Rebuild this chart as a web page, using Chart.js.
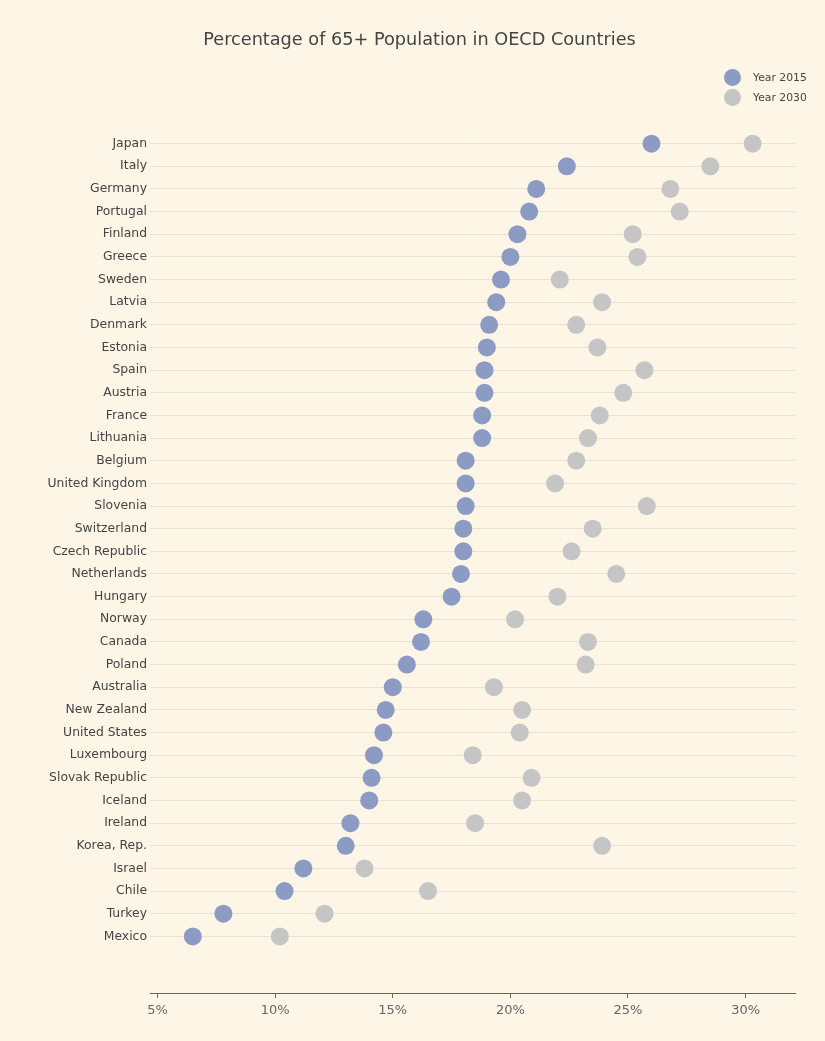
<!DOCTYPE html>
<html>
<head>
<meta charset="utf-8">
<title>Percentage of 65+ Population in OECD Countries</title>
<script src="https://cdn.jsdelivr.net/npm/chart.js@4/dist/chart.umd.min.js"></script>
<style>
  body { margin: 0; background: rgb(253, 246, 231); font-family: "DejaVu Sans", Verdana, sans-serif; }
  #wrap { position: relative; width: 825px; height: 1041px; }
  #title {
    position: absolute; top: 29px; left: 0; width: 825px; padding-left: 14px; box-sizing: border-box;
    text-align: center; font-size: 17.7px; color: #444;
  }
  #legend { position: absolute; top: 67px; left: 724px; font-size: 10.8px; color: #444; }
  .legend-item { display: flex; align-items: center; height: 20px; }
  .legend-dot { width: 17px; height: 17px; border-radius: 50%; margin-right: 12px; }
  canvas { position: absolute; top: 0; left: 0; }
</style>
</head>
<body>
<div id="wrap">
  <canvas id="chart" width="825" height="1041"></canvas>
  <div id="title">Percentage of 65+ Population in OECD Countries</div>
  <div id="legend"></div>
</div>
<script>
// Data (percent of population aged 65+), top row first
const countries = [
  'Japan', 'Italy', 'Germany', 'Portugal', 'Finland', 'Greece', 'Sweden', 'Latvia',
  'Denmark', 'Estonia', 'Spain', 'Austria', 'France', 'Lithuania', 'Belgium',
  'United Kingdom', 'Slovenia', 'Switzerland', 'Czech Republic', 'Netherlands',
  'Hungary', 'Norway', 'Canada', 'Poland', 'Australia', 'New Zealand',
  'United States', 'Luxembourg', 'Slovak Republic', 'Iceland', 'Ireland',
  'Korea, Rep.', 'Israel', 'Chile', 'Turkey', 'Mexico'
];
const values2015 = [
  26.0, 22.4, 21.1, 20.8, 20.3, 20.0, 19.6, 19.4, 19.1, 19.0, 18.9, 18.9,
  18.8, 18.8, 18.1, 18.1, 18.1, 18.0, 18.0, 17.9, 17.5, 16.3, 16.2, 15.6,
  15.0, 14.7, 14.6, 14.2, 14.1, 14.0, 13.2, 13.0, 11.2, 10.4, 7.8, 6.5
];
const values2030 = [
  30.3, 28.5, 26.8, 27.2, 25.2, 25.4, 22.1, 23.9, 22.8, 23.7, 25.7, 24.8,
  23.8, 23.3, 22.8, 21.9, 25.8, 23.5, 22.6, 24.5, 22.0, 20.2, 23.3, 23.2,
  19.3, 20.5, 20.4, 18.4, 20.9, 20.5, 18.5, 23.9, 13.8, 16.5, 12.1, 10.2
];
const xTicks = [5, 10, 15, 20, 25, 30];

const seriesNames = ['Year 2015', 'Year 2030'];
const seriesColors = ['rgb(140, 155, 196)', 'rgb(197, 197, 197)'];

function toPoints(values) {
  return values.map((v, i) => ({ x: v, y: i }));
}

const ctx = document.getElementById('chart').getContext('2d');
const chart = new Chart(ctx, {
  type: 'scatter',
  data: {
    datasets: [values2015, values2030].map((vals, i) => ({
      label: seriesNames[i],
      data: toPoints(vals),
      backgroundColor: seriesColors[i],
      borderColor: seriesColors[i],
      borderWidth: 0,
      pointRadius: 9,
      pointHoverRadius: 9
    }))
  },
  options: {
    responsive: false,
    animation: false,
    layout: { padding: { top: 87, right: 30, left: 0, bottom: 0 } },
    plugins: {
      legend: { display: false },
      title: { display: false },
      tooltip: { enabled: false }
    },
    scales: {
      x: {
        type: 'linear',
        min: 4.68,
        max: 32.1,
        afterFit: scale => { scale.height = 48; },
        afterBuildTicks: scale => { scale.ticks = xTicks.map(v => ({ value: v })); },
        grid: { drawOnChartArea: false, drawTicks: true, tickLength: 5, color: '#666' },
        border: { display: true, color: '#666', width: 1 },
        ticks: {
          padding: 5,
          color: '#666',
          font: { family: 'DejaVu Sans', size: 13 },
          callback: v => v + '%'
        }
      },
      y: {
        type: 'linear',
        reverse: true,
        min: -2.5,
        max: 37.5,
        afterFit: scale => { scale.width = 150; },
        afterBuildTicks: scale => { scale.ticks = countries.map((_, i) => ({ value: i })); },
        grid: { drawTicks: false, color: 'rgb(233, 226, 212)', lineWidth: 1 },
        border: { display: false },
        ticks: {
          padding: 3,
          color: '#444',
          autoSkip: false,
          font: { family: 'DejaVu Sans', size: 12.4 },
          callback: v => countries[v] || ''
        }
      }
    }
  }
});

// Build the legend from the datasets
const legendEl = document.getElementById('legend');
chart.data.datasets.forEach(ds => {
  const item = document.createElement('div');
  item.className = 'legend-item';
  item.innerHTML = `<span class="legend-dot" style="background:${ds.backgroundColor}"></span><span>${ds.label}</span>`;
  legendEl.appendChild(item);
});
</script>
</body>
</html>
